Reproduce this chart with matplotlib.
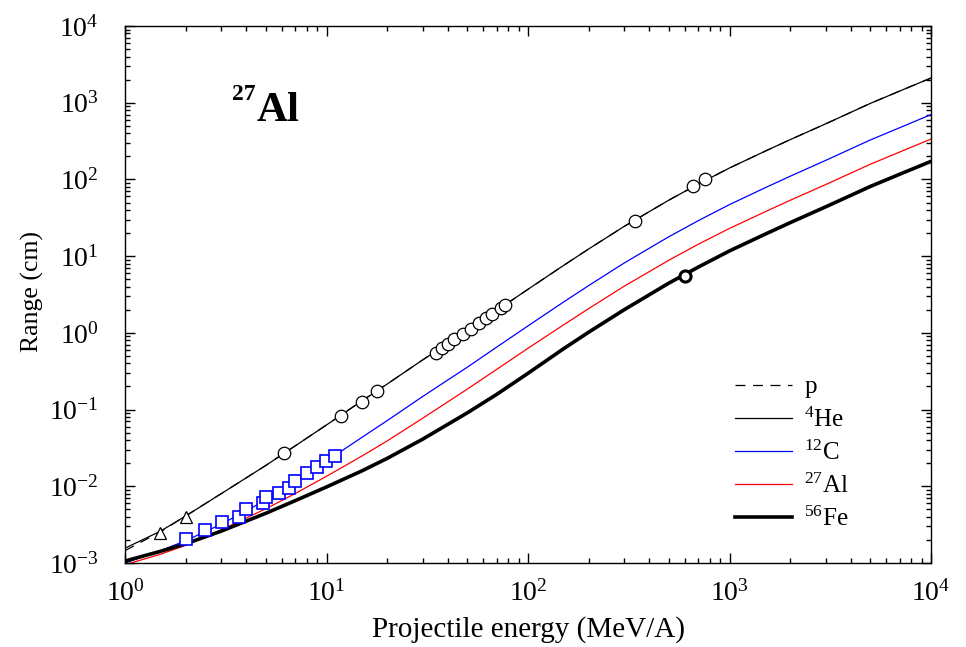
import numpy as np
import matplotlib
matplotlib.use('Agg')
import matplotlib.pyplot as plt
from matplotlib.ticker import LogLocator, NullFormatter
from matplotlib.lines import Line2D

plt.rcParams['font.family'] = ['Liberation Serif', 'DejaVu Serif']
plt.rcParams['mathtext.fontset'] = 'custom'
plt.rcParams['mathtext.rm'] = 'Liberation Serif'
plt.rcParams['mathtext.it'] = 'Liberation Serif:italic'
plt.rcParams['mathtext.bf'] = 'Liberation Serif:bold'

# ---- data (energy in MeV/A, range in cm) ----
energy = [1, 1.5, 2, 3, 5, 7, 10, 15, 20, 30, 50, 70, 100, 150, 200, 300, 500,
          700, 1000, 1500, 2000, 3000, 5000, 7000, 10000]
range_p = [1.45e-3, 2.55e-3, 4.1e-3, 8.0e-3, 0.0187, 0.0337, 0.063, 0.13, 0.215,
           0.444, 1.07, 1.96, 3.70, 7.55, 12.4, 24.4, 53.7, 87, 141, 233, 330,
           530, 980, 1420, 2100]
range_he = [1.56e-3, 2.6e-3, 4.1e-3, 8.0e-3, 0.0187, 0.0337, 0.063, 0.13, 0.215,
            0.444, 1.07, 1.96, 3.70, 7.55, 12.4, 24.4, 53.7, 87, 141, 233, 330,
            530, 980, 1420, 2100]
range_c = [1.0e-3, 1.45e-3, 1.95e-3, 3.2e-3, 6.6e-3, 0.0117, 0.0213, 0.0435, 0.0717,
           0.148, 0.357, 0.653, 1.233, 2.52, 4.13, 8.13, 17.9, 29, 47, 77.7, 110,
           177, 327, 473, 700]
range_al = [0.95e-3, 1.3e-3, 1.7e-3, 2.7e-3, 5.1e-3, 8.05e-3, 0.0135, 0.0248, 0.039,
            0.077, 0.185, 0.335, 0.63, 1.27, 2.07, 4.05, 8.85, 14.3, 23.0, 37.8, 53.5,
            85.6, 157.8, 228, 336]
range_fe = [1.06e-3, 1.42e-3, 1.78e-3, 2.6e-3, 4.45e-3, 6.5e-3, 0.0098, 0.0159, 0.0231,
            0.0411, 0.0907, 0.158, 0.297, 0.62, 1.02, 2.0, 4.45, 7.2, 11.7, 19.3, 27.3,
            43.9, 81, 117, 172]

# experimental points
tri_e = [1.49, 2.01]
tri_r = [2.46e-3, 4.0e-3]
he_exp_e = [6.15, 11.8, 15.0, 17.8, 34.9, 37.4, 40.1, 42.9, 47.6, 52.1, 57.1, 61.9,
            66.3, 73.5, 76.9, 340, 659, 755]
he_exp_r = [0.027, 0.0826, 0.126, 0.175, 0.547, 0.636, 0.716, 0.832, 0.968, 1.12,
            1.35, 1.56, 1.76, 2.11, 2.31, 28.8, 82, 101]
c_exp_e = [2.0, 2.49, 3.03, 3.68, 3.99, 4.84, 5.0, 5.81, 6.51, 6.98, 8.0, 8.97, 9.95, 11.0]
c_exp_r = [2.06e-3, 2.7e-3, 3.4e-3, 4.0e-3, 5.06e-3, 6.06e-3, 7.25e-3, 8.2e-3, 9.5e-3,
           1.17e-2, 1.49e-2, 1.78e-2, 2.14e-2, 2.48e-2]
fe_exp_e = [601]
fe_exp_r = [5.52]

x_ticks = [1, 10, 100, 1000, 10000]
x_ticklabels = ['10$^0$', '10$^1$', '10$^2$', '10$^3$', '10$^4$']
y_ticks = [1e-3, 1e-2, 1e-1, 1, 10, 100, 1000, 1e4]
y_ticklabels = ['10$^{-3}$', '10$^{-2}$', '10$^{-1}$', '10$^0$', '10$^1$',
                '10$^2$', '10$^3$', '10$^4$']

W, H = 966, 647
fig = plt.figure(figsize=(W / 100, H / 100), dpi=100)
ax = fig.add_axes([125 / W, 1 - 563 / H, 806 / W, 537 / H])

ax.set_xscale('log')
ax.set_yscale('log')

dash = (0, (8, 6))
ax.plot(energy, range_p, color='black', lw=0.9, ls=dash, zorder=2)
ax.plot(energy, range_he, color='black', lw=0.9, zorder=2)
ax.plot(energy, range_c, color='blue', lw=0.9, zorder=2)
ax.plot(energy, range_al, color='red', lw=0.9, zorder=2)
ax.plot(energy, range_fe, color='black', lw=2.6, zorder=2)

ax.plot(c_exp_e, c_exp_r, ls='none', marker='s', ms=8, mfc='white', mec='blue',
        mew=1.2, zorder=3)
ax.plot(tri_e, tri_r, ls='none', marker='^', ms=9, mfc='white', mec='black',
        mew=0.9, zorder=3)
ax.plot(he_exp_e, he_exp_r, ls='none', marker='o', ms=9, mfc='white', mec='black',
        mew=0.9, zorder=3)
ax.plot(fe_exp_e, fe_exp_r, ls='none', marker='o', ms=8, mfc='white', mec='black',
        mew=2.2, zorder=3)

# ticks
ax.xaxis.set_minor_locator(LogLocator(base=10, subs=np.arange(2, 10), numticks=20))
ax.yaxis.set_minor_locator(LogLocator(base=10, subs=np.arange(2, 10), numticks=20))
ax.xaxis.set_minor_formatter(NullFormatter())
ax.yaxis.set_minor_formatter(NullFormatter())
ax.set_xticks(x_ticks)
ax.set_xticklabels(x_ticklabels)
ax.set_yticks(y_ticks)
ax.set_yticklabels(y_ticklabels)
ax.set_xlim(1, 1e4)
ax.set_ylim(1e-3, 1e4)
ax.tick_params(which='both', direction='in', top=True, right=True, width=1.0,
               labelsize=20)
ax.tick_params(which='major', length=7)
ax.tick_params(which='minor', length=3.6)
ax.tick_params(axis='x', which='major', pad=12)
ax.tick_params(axis='y', which='major', pad=19)
for s in ax.spines.values():
    s.set_linewidth(1.0)

ax.set_xlabel('Projectile energy (MeV/A)', fontsize=21)
ax.xaxis.set_label_coords(0.5, (563 - 616) / 537)
ax.set_ylabel('Range (cm)', fontsize=18.5)
ax.yaxis.set_label_coords((44 - 125) / 806, (563 - 291) / 537)

# title-like label
ax.text((232 - 125) / 806, (563 - 100) / 537, '27', transform=ax.transAxes,
        fontsize=17, fontweight='bold', ha='left', va='baseline')
ax.text((257 - 125) / 806, (563 - 121) / 537, 'Al', transform=ax.transAxes,
        fontsize=31, fontweight='bold', ha='left', va='baseline')

handles = [
    Line2D([], [], color='black', lw=0.9, ls=dash),
    Line2D([], [], color='black', lw=0.9),
    Line2D([], [], color='blue', lw=0.9),
    Line2D([], [], color='red', lw=0.9),
    Line2D([], [], color='black', lw=2.6),
]
labels = ['p', '$^{4}$He', '$^{12}$C', '$^{27}$Al', '$^{56}$Fe']
ax.legend(handles, labels, loc='upper left',
          bbox_to_anchor=((735 - 125) / 806, (563 - 376) / 537),
          frameon=False, fontsize=18, handlelength=2.28, handletextpad=0.5,
          labelspacing=0.35, borderpad=0, borderaxespad=0)

fig.savefig('out.png', dpi=100)
